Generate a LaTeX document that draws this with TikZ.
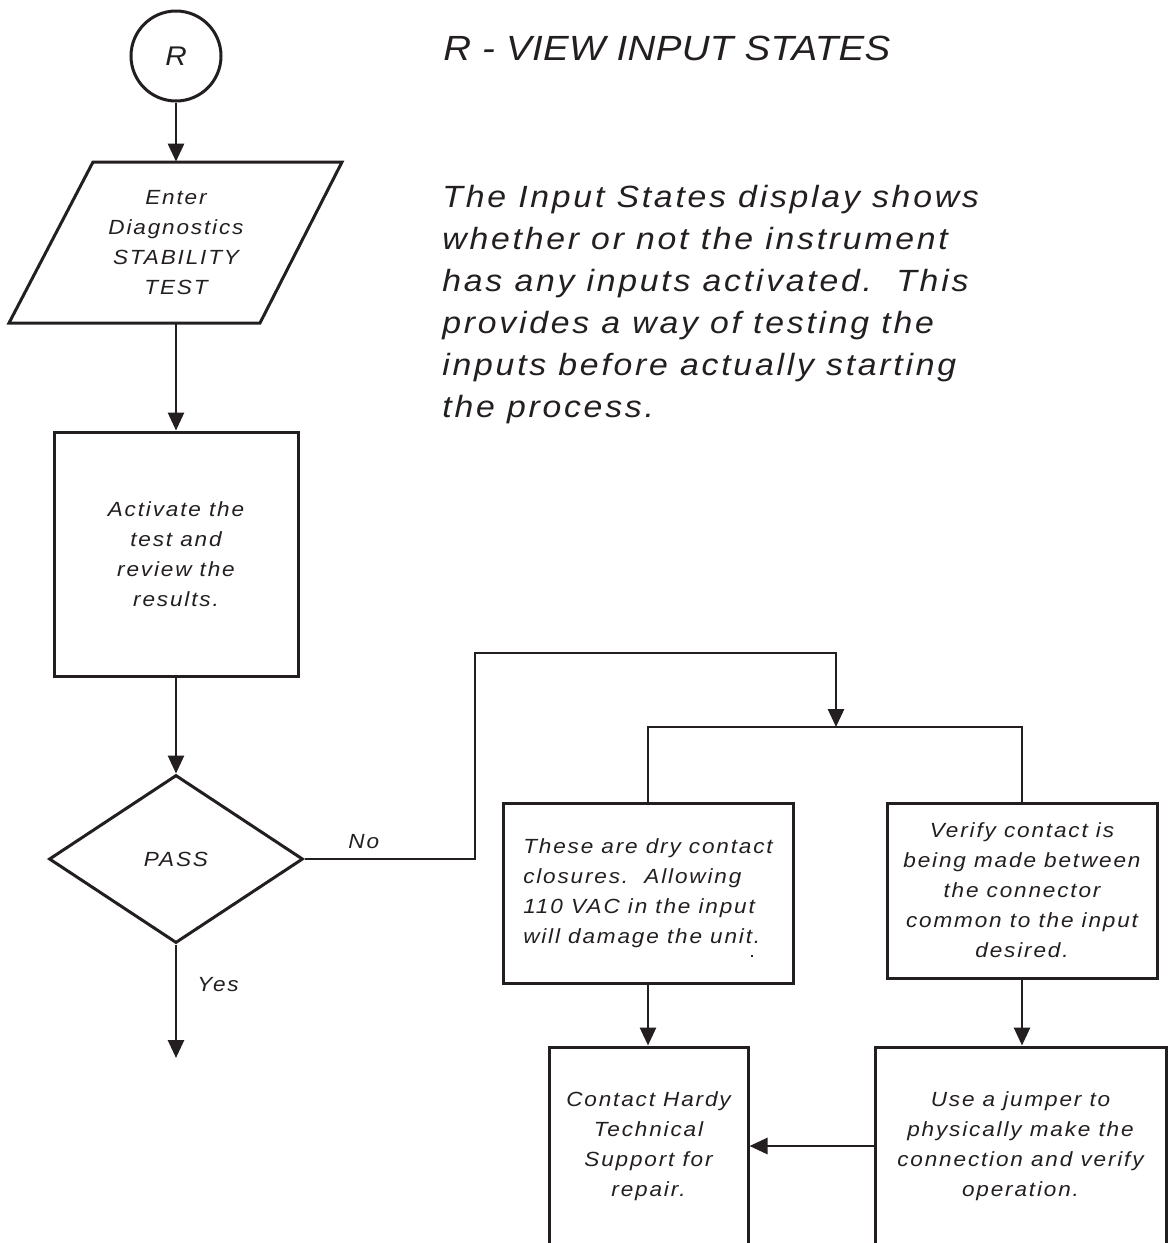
\documentclass[tikz,border=0pt]{standalone}
\usepackage{fontspec}
\setmainfont{Liberation Sans}
\newfontfamily\bodyfont{Liberation Sans}[FakeStretch=1.1,LetterSpace=9]
\newfontfamily\titlefont{Liberation Sans}[FakeStretch=1.1,LetterSpace=1]
\usetikzlibrary{shapes.geometric,arrows.meta}
\definecolor{ink}{HTML}{231F20}
\begin{document}
\begin{tikzpicture}[x=0.5pt,y=-0.5pt,line join=miter,
  every node/.style={text=ink},
  shp/.style={draw=ink,line width=1.5pt},
  boxtxt/.style={font=\bodyfont\itshape\fontsize{10.25pt}{15pt}\selectfont},
  card/.style={shp,rectangle,boxtxt,align=center,inner sep=0pt},
  conn/.style={draw=ink,line width=1.4pt},
  arr/.style={conn,-{Triangle[width=8pt,length=9pt]}}]
\fill[white] (0,0) rectangle (1168,1243);
\useasboundingbox (0,0) rectangle (1168,1243);

% header texts
\node[anchor=base west,inner sep=0pt,font=\titlefont\itshape\fontsize{17.5pt}{21pt}\selectfont] (title) at (443,60) {R - VIEW INPUT STATES};
\node[anchor=north west,inner sep=0pt,align=left,font=\bodyfont\itshape\fontsize{15.35pt}{21pt}\selectfont] (para) at (442,185)
  {The Input States display shows\\whether or not the instrument\\has any inputs activated.\ \ This\\provides a way of testing the\\inputs before actually starting\\the process.};

% left column
\node[shp,circle,minimum size=45pt,inner sep=0pt,font=\titlefont\itshape\fontsize{13.5pt}{16pt}\selectfont] (R) at (176,56) {R};
\draw[shp] (93,162) -- (342,162) -- (260,323) -- (9,323) -- cycle;
\node[boxtxt,align=center,minimum height=80.5pt,inner sep=0pt] (enter) at (176,242.5) {Enter\\Diagnostics\\STABILITY\\TEST};
\node[card,minimum width=122pt,minimum height=122pt] (act) at (176,554) {Activate the\\test and\\review the\\results.};
\node[shp,diamond,boxtxt,minimum width=127pt,minimum height=84pt,inner sep=0pt] (pass) at (176,859) {PASS};
\coordinate (yesend) at (176,1058);
\node[boxtxt,anchor=base west,inner sep=0pt] (yes) at (197,991) {Yes};
\node[boxtxt,anchor=base west,inner sep=0pt] (no) at (348,848) {No};

% right part
\node[card,align=left,minimum width=145pt,minimum height=90pt] (b1) at (648,893) {These are dry contact\\closures.\ \ Allowing\\110 VAC in the input\\will damage the unit.};
\node[card,minimum width=135pt,minimum height=87.5pt] (b2) at (1022,890.5) {Verify contact is\\being made between\\the connector\\common to the input\\desired.};
\node[card,minimum width=99.5pt,minimum height=99pt] (b3) at (648.5,1146) {Contact Hardy\\Technical\\Support for\\repair.};
\node[card,minimum width=145.5pt,minimum height=99pt] (b4) at (1020.5,1146) {Use a jumper to\\physically make the\\connection and verify\\operation.};
\fill[ink] (751,955) rectangle (753,956.5);

\coordinate (nocorner) at (475,653);
\coordinate (split) at (836,727);

% connectors
\draw[arr] (R) -- (enter.north);
\draw[arr] (enter.south) -- (act.north);
\draw[arr] (act.south) -- (pass.north);
\draw[arr] (pass.south) -- (yesend);
\draw[arr] (pass.east) -| (nocorner) -| (split);
\draw[conn] (b1.north) |- (split) -| (b2.north);
\draw[arr] (b1.south) -- (b1.south |- b3.north);
\draw[arr] (b2.south) -- (b2.south |- b4.north);
\draw[arr] (b4.west) -- (b3.east);
\end{tikzpicture}
\end{document}
